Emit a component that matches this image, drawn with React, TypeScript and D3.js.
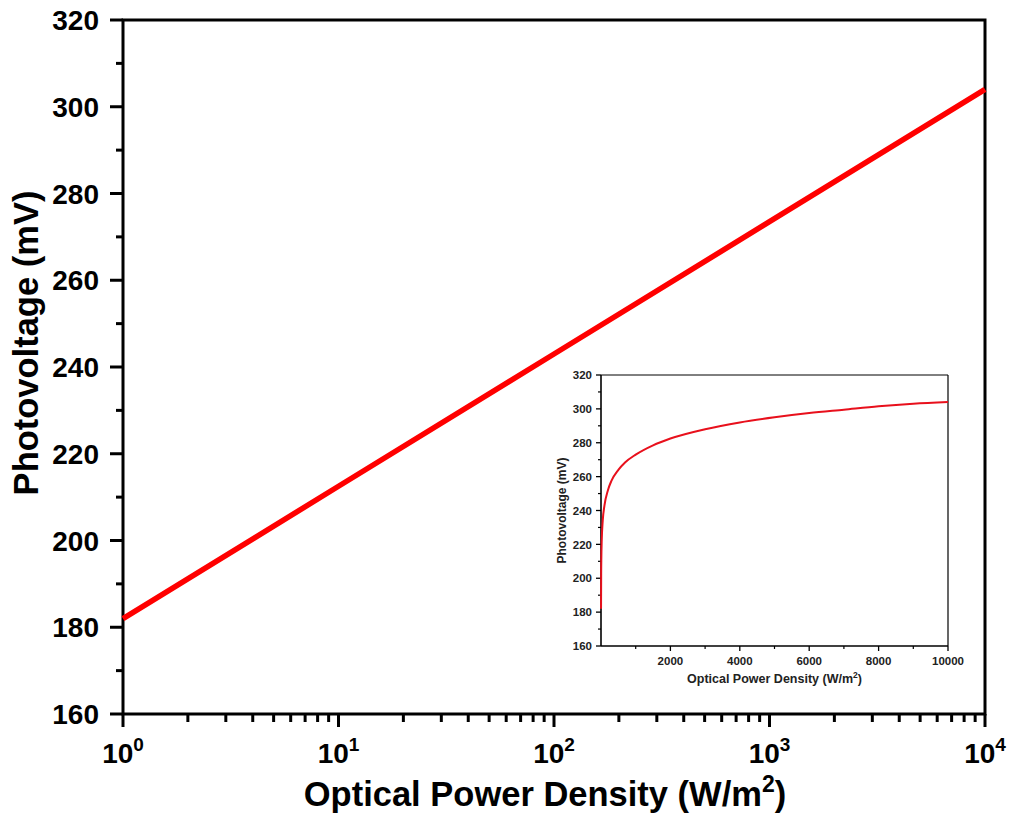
import React from "react";
import * as d3 from "d3";

// Main chart: photovoltage vs optical power density (log x)
const mainPower = [1, 10, 100, 1000, 10000];
const mainVoltage = [182, 212.5, 243, 273.5, 304];
const mainYTicks = [160, 180, 200, 220, 240, 260, 280, 300, 320];
const mainXExponents = [0, 1, 2, 3, 4];

// Inset: same data on a linear x axis
const insetPower = [1, 5, 10, 20, 50, 100, 200, 300, 500, 700, 1000, 1500, 2000, 3000, 4000, 5000, 6000, 7000, 8000, 9000, 10000];
const insetVoltage = [182, 203, 212, 221.5, 234, 243, 252, 257.5, 264, 268.5, 273, 278.5, 282.5, 288, 292, 295, 297.5, 299.5, 301.5, 303, 304];
const insetYTicks = [160, 180, 200, 220, 240, 260, 280, 300, 320];
const insetXTicks = [2000, 4000, 6000, 8000, 10000];

const FONT = "Arial, 'Liberation Sans', sans-serif";

export default function App() {
  // main geometry
  const L = 123, R = 985, T = 20, B = 714;
  const x = d3.scaleLog().domain([1, 10000]).range([L, R]);
  const y = d3.scaleLinear().domain([160, 320]).range([B, T]);
  const mainData = mainPower.map((p, i) => [p, mainVoltage[i]] as [number, number]);
  const line = d3.line<[number, number]>().x(d => x(d[0])).y(d => y(d[1]));

  const minorX: number[] = [];
  for (let e = 0; e < 4; e++) for (let k = 2; k <= 9; k++) minorX.push(k * Math.pow(10, e));
  const minorY: number[] = [];
  for (let v = 170; v < 320; v += 20) minorY.push(v);

  // inset geometry
  const iL = 601, iR = 948, iT = 375, iB = 646;
  const ix = d3.scaleLinear().domain([0, 10000]).range([iL, iR]);
  const iy = d3.scaleLinear().domain([160, 320]).range([iB, iT]);
  const insetData = insetPower.map((p, i) => [p, insetVoltage[i]] as [number, number]);
  const iline = d3.line<[number, number]>().x(d => ix(d[0])).y(d => iy(d[1])).curve(d3.curveMonotoneX);
  const insetMinorX = [1000, 3000, 5000, 7000, 9000];
  const insetMinorY: number[] = [];
  for (let v = 170; v < 320; v += 20) insetMinorY.push(v);

  return (
    <svg width={1011} height={816} style={{ position: "absolute", left: 0, top: 0, background: "#fff" }} fontFamily={FONT}>
      <rect x={0} y={0} width={1011} height={816} fill="#fff" />
      {/* main frame */}
      <rect x={L} y={T} width={R - L} height={B - T} fill="none" stroke="#000" strokeWidth={3} />
      {/* y ticks */}
      {mainYTicks.map(v => (
        <g key={"y" + v}>
          <line x1={L - 13} x2={L} y1={y(v)} y2={y(v)} stroke="#000" strokeWidth={3} />
          <text x={L - 24} y={y(v)} dy="0.36em" textAnchor="end" fontSize={28} fontWeight="bold">{v}</text>
        </g>
      ))}
      {minorY.map(v => (
        <line key={"my" + v} x1={L - 7} x2={L} y1={y(v)} y2={y(v)} stroke="#000" strokeWidth={3} />
      ))}
      {/* x ticks */}
      {mainXExponents.map(e => (
        <g key={"x" + e}>
          <line x1={x(Math.pow(10, e))} x2={x(Math.pow(10, e))} y1={B} y2={B + 13} stroke="#000" strokeWidth={3} />
          <text x={x(Math.pow(10, e))} y={763} textAnchor="middle" fontSize={28} fontWeight="bold">
            10<tspan fontSize={19} dy={-12}>{e}</tspan>
          </text>
        </g>
      ))}
      {minorX.map(v => (
        <line key={"mx" + v} x1={x(v)} x2={x(v)} y1={B} y2={B + 8} stroke="#000" strokeWidth={3} />
      ))}
      {/* axis titles */}
      <text x={545} y={806} textAnchor="middle" fontSize={34.5} fontWeight="bold">
        Optical Power Density (W/m<tspan fontSize={23} dy={-14}>2</tspan><tspan dy={14}>)</tspan>
      </text>
      <text transform={`translate(38, 343) rotate(-90)`} textAnchor="middle" fontSize={34.5} fontWeight="bold">
        Photovoltage (mV)
      </text>
      {/* main line */}
      <path d={line(mainData) || ""} fill="none" stroke="#f00" strokeWidth={5.5} />

      {/* inset */}
      <g>
        <line x1={iL} x2={iR} y1={iT} y2={iT} stroke="#000" strokeWidth={1} />
        <line x1={iR} x2={iR} y1={iT} y2={iB} stroke="#000" strokeWidth={1.2} />
        <line x1={iL} x2={iL} y1={iT} y2={iB} stroke="#000" strokeWidth={1.6} />
        <line x1={iL} x2={iR} y1={iB} y2={iB} stroke="#000" strokeWidth={1.6} />
        {insetYTicks.map(v => (
          <g key={"iy" + v}>
            <line x1={iL - 5} x2={iL} y1={iy(v)} y2={iy(v)} stroke="#000" strokeWidth={1.3} />
            <text x={iL - 9} y={iy(v)} dy="0.36em" textAnchor="end" fontSize={11.5} fontWeight="bold" fill="#222">{v}</text>
          </g>
        ))}
        {insetMinorY.map(v => (
          <line key={"imy" + v} x1={iL - 3} x2={iL} y1={iy(v)} y2={iy(v)} stroke="#000" strokeWidth={1.2} />
        ))}
        {insetXTicks.map(v => (
          <g key={"ix" + v}>
            <line x1={ix(v)} x2={ix(v)} y1={iB} y2={iB + 5} stroke="#000" strokeWidth={1.3} />
            <text x={ix(v)} y={iB + 19} textAnchor="middle" fontSize={11.5} fontWeight="bold" fill="#222">{v}</text>
          </g>
        ))}
        {insetMinorX.map(v => (
          <line key={"imx" + v} x1={ix(v)} x2={ix(v)} y1={iB} y2={iB + 3} stroke="#000" strokeWidth={1.2} />
        ))}
        <text x={(iL + iR) / 2} y={683} textAnchor="middle" fontSize={12.5} fontWeight="bold" fill="#222">
          Optical Power Density (W/m<tspan fontSize={8.5} dy={-5}>2</tspan><tspan dy={5}>)</tspan>
        </text>
        <text transform={`translate(566, ${(iT + iB) / 2}) rotate(-90)`} textAnchor="middle" fontSize={12} fontWeight="bold" fill="#222">
          Photovoltage (mV)
        </text>
        <path d={iline(insetData) || ""} fill="none" stroke="#e8101c" strokeWidth={2} />
      </g>
    </svg>
  );
}
